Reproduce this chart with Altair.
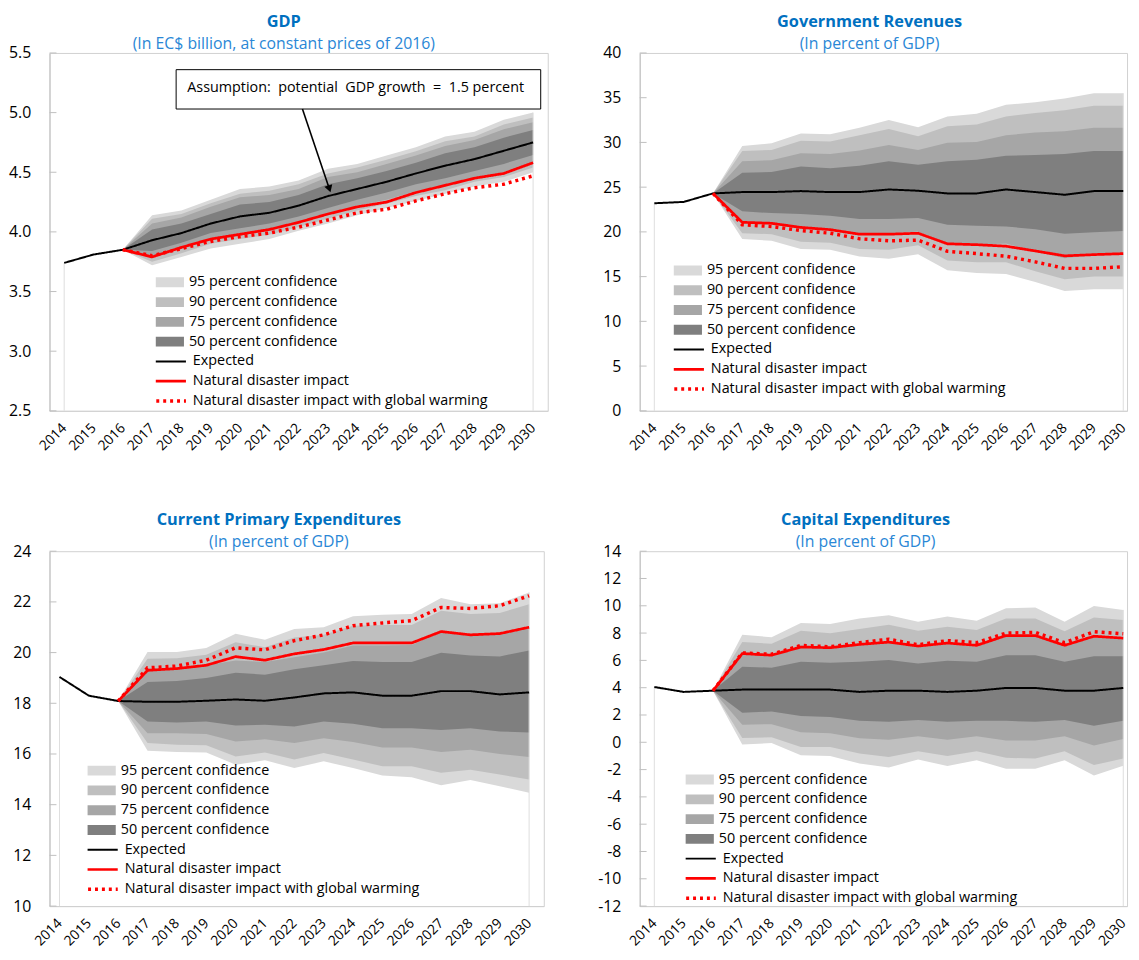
import altair as alt
import pandas as pd

FONT = "Open Sans"
YEARS = list(range(2014, 2031))
FAN_YEARS = YEARS[2:]  # 2016..2030

BAND_NAMES = ["95 percent confidence", "90 percent confidence",
              "75 percent confidence", "50 percent confidence"]
BAND_COLORS = ["#d9d9d9", "#bfbfbf", "#a6a6a6", "#7f7f7f"]
LINE_NAMES = ["Expected", "Natural disaster impact",
              "Natural disaster impact with global warming"]
LINE_COLORS = ["#000000", "#ff0000", "#ff0000"]
LINE_DASH = [[1, 0], [1, 0], [3, 4]]
LINE_WIDTHS = [2, 3.5, 3]

# ---------------- GDP ----------------
gdp_exp = [3.74, 3.81, 3.85, 3.93, 3.99, 4.07, 4.13, 4.16, 4.22, 4.30, 4.36, 4.42, 4.49, 4.555, 4.61, 4.68, 4.75]
gdp_nd = [3.85, 3.79, 3.87, 3.94, 3.98, 4.02, 4.08, 4.15, 4.21, 4.25, 4.33, 4.39, 4.45, 4.49, 4.58]
gdp_ndgw = [3.85, 3.80, 3.86, 3.92, 3.96, 3.99, 4.04, 4.10, 4.16, 4.19, 4.26, 4.32, 4.37, 4.40, 4.47]
gdp_95_hi = [3.85, 4.14, 4.18, 4.27, 4.36, 4.38, 4.43, 4.53, 4.57, 4.64, 4.71, 4.80, 4.84, 4.94, 5.00]
gdp_95_lo = [3.85, 3.72, 3.79, 3.86, 3.90, 3.94, 4.01, 4.07, 4.14, 4.20, 4.26, 4.32, 4.38, 4.42, 4.50]
gdp_90_hi = [3.85, 4.11, 4.15, 4.24, 4.32, 4.345, 4.40, 4.49, 4.54, 4.605, 4.675, 4.76, 4.80, 4.90, 4.96]
gdp_90_lo = [3.85, 3.75, 3.82, 3.90, 3.94, 3.975, 4.04, 4.11, 4.18, 4.235, 4.30, 4.35, 4.42, 4.46, 4.54]
gdp_75_hi = [3.85, 4.07, 4.12, 4.21, 4.29, 4.31, 4.36, 4.46, 4.50, 4.57, 4.64, 4.72, 4.77, 4.86, 4.92]
gdp_75_lo = [3.85, 3.79, 3.86, 3.93, 3.97, 4.01, 4.08, 4.14, 4.22, 4.27, 4.34, 4.39, 4.45, 4.50, 4.58]
gdp_50_hi = [3.85, 4.02, 4.07, 4.15, 4.23, 4.25, 4.31, 4.40, 4.45, 4.51, 4.58, 4.66, 4.71, 4.79, 4.855]
gdp_50_lo = [3.85, 3.84, 3.91, 3.99, 4.03, 4.07, 4.13, 4.20, 4.27, 4.33, 4.40, 4.45, 4.51, 4.57, 4.645]
gdp_ticks = [2.5, 3.0, 3.5, 4.0, 4.5, 5.0, 5.5]

# ---------------- Government revenues ----------------
gov_exp = [23.2, 23.35, 24.3, 24.45, 24.45, 24.56, 24.45, 24.45, 24.74, 24.6, 24.3, 24.3, 24.74, 24.45, 24.15, 24.56, 24.56]
gov_nd = [24.3, 21.07, 20.96, 20.5, 20.25, 19.74, 19.74, 19.85, 18.67, 18.57, 18.4, 17.87, 17.32, 17.46, 17.57]
gov_ndgw = [24.3, 20.8, 20.6, 20.15, 19.85, 19.23, 19.0, 19.08, 17.83, 17.57, 17.28, 16.65, 15.92, 15.92, 16.1]
gov_95_hi = [24.3, 29.6, 29.9, 31.0, 30.9, 31.65, 32.5, 31.7, 32.9, 33.2, 34.2, 34.5, 34.9, 35.5, 35.5]
gov_95_lo = [24.3, 19.2, 19.0, 18.1, 18.0, 17.25, 17.0, 17.5, 15.7, 15.4, 15.3, 14.4, 13.4, 13.6, 13.6]
gov_90_hi = [24.3, 29.05, 29.15, 30.2, 30.1, 30.8, 31.5, 30.7, 31.8, 32.0, 32.9, 33.3, 33.6, 34.1, 34.1]
gov_90_lo = [24.3, 19.85, 19.75, 18.9, 18.8, 18.1, 18.0, 18.5, 16.8, 16.6, 16.6, 15.6, 14.7, 15.0, 15.0]
gov_75_hi = [24.3, 27.9, 28.0, 28.8, 28.7, 29.1, 29.7, 29.15, 29.95, 30.05, 30.8, 31.1, 31.25, 31.65, 31.65]
gov_75_lo = [24.3, 21.0, 20.9, 20.3, 20.2, 19.8, 19.8, 20.05, 18.65, 18.55, 18.7, 17.8, 17.05, 17.45, 17.45]
gov_50_hi = [24.3, 26.6, 26.7, 27.3, 27.1, 27.4, 27.9, 27.5, 27.9, 28.05, 28.5, 28.6, 28.7, 29.05, 29.05]
gov_50_lo = [24.3, 22.3, 22.1, 22.0, 21.8, 21.45, 21.45, 21.55, 20.8, 20.7, 20.6, 20.3, 19.8, 19.95, 20.1]
gov_ticks = [0, 5, 10, 15, 20, 25, 30, 35, 40]

# ---------------- Current primary expenditures ----------------
cpe_exp = [19.04, 18.3, 18.09, 18.06, 18.06, 18.1, 18.15, 18.1, 18.23, 18.39, 18.43, 18.3, 18.3, 18.48, 18.48, 18.35, 18.43]
cpe_nd = [18.09, 19.3, 19.37, 19.5, 19.84, 19.7, 19.95, 20.12, 20.38, 20.38, 20.38, 20.83, 20.7, 20.75, 21.0]
cpe_ndgw = [18.09, 19.4, 19.47, 19.7, 20.19, 20.11, 20.47, 20.7, 21.06, 21.17, 21.26, 21.78, 21.74, 21.85, 22.24]
cpe_95_hi = [18.09, 20.02, 20.02, 20.18, 20.74, 20.51, 20.93, 21.0, 21.43, 21.49, 21.52, 22.15, 21.91, 21.95, 22.37]
cpe_95_lo = [18.09, 16.13, 16.08, 16.06, 15.58, 15.75, 15.45, 15.71, 15.45, 15.15, 15.08, 14.77, 14.97, 14.73, 14.47]
cpe_90_hi = [18.09, 19.76, 19.78, 19.91, 20.41, 20.21, 20.6, 20.7, 21.06, 21.09, 21.09, 21.65, 21.52, 21.56, 21.91]
cpe_90_lo = [18.09, 16.43, 16.36, 16.34, 15.9, 16.06, 15.78, 16.04, 15.78, 15.52, 15.52, 15.26, 15.38, 15.19, 14.99]
cpe_75_hi = [18.09, 19.36, 19.36, 19.5, 19.69, 19.63, 19.82, 20.0, 20.28, 20.28, 20.3, 20.8, 20.67, 20.7, 20.96]
cpe_75_lo = [18.09, 16.82, 16.82, 16.79, 16.49, 16.58, 16.43, 16.62, 16.47, 16.26, 16.26, 16.08, 16.17, 16.0, 15.88]
cpe_50_hi = [18.09, 18.84, 18.88, 19.0, 19.2, 19.13, 19.34, 19.5, 19.67, 19.63, 19.63, 19.99, 19.89, 19.85, 20.08]
cpe_50_lo = [18.09, 17.28, 17.24, 17.28, 17.12, 17.15, 17.08, 17.28, 17.19, 17.02, 17.02, 16.95, 17.02, 16.89, 16.85]
cpe_ticks = [10, 12, 14, 16, 18, 20, 22, 24]

# ---------------- Capital expenditures ----------------
cap_exp = [4.05, 3.69, 3.78, 3.86, 3.86, 3.86, 3.86, 3.69, 3.78, 3.78, 3.69, 3.78, 3.98, 3.98, 3.78, 3.78, 3.98]
cap_nd = [3.78, 6.5, 6.38, 6.98, 6.93, 7.17, 7.34, 7.05, 7.27, 7.1, 7.82, 7.82, 7.1, 7.77, 7.63]
cap_ndgw = [3.78, 6.55, 6.45, 7.1, 7.0, 7.3, 7.55, 7.15, 7.45, 7.3, 8.0, 8.05, 7.3, 8.1, 7.95]
cap_95_hi = [3.78, 7.87, 7.7, 8.74, 8.66, 9.07, 9.31, 8.83, 9.22, 8.9, 9.82, 9.87, 8.83, 9.99, 9.7]
cap_95_lo = [3.78, -0.16, -0.06, -0.95, -1.0, -1.55, -1.84, -1.26, -1.74, -1.31, -1.94, -1.94, -1.31, -2.44, -1.72]
cap_90_hi = [3.78, 7.34, 7.22, 8.18, 7.99, 8.3, 8.62, 8.18, 8.47, 8.23, 9.07, 9.07, 8.13, 9.14, 8.95]
cap_90_lo = [3.78, 0.32, 0.37, -0.35, -0.35, -0.83, -1.07, -0.66, -1.0, -0.66, -1.14, -1.19, -0.66, -1.67, -1.19]
cap_75_hi = [3.78, 6.62, 6.43, 7.1, 6.9, 7.22, 7.34, 6.98, 7.22, 6.98, 7.87, 7.87, 6.98, 7.82, 7.63]
cap_75_lo = [3.78, 1.28, 1.33, 0.73, 0.66, 0.3, 0.18, 0.44, 0.18, 0.44, 0.13, 0.13, 0.44, -0.23, 0.25]
cap_50_hi = [3.78, 5.54, 5.47, 5.9, 5.83, 5.9, 6.02, 5.78, 5.97, 5.9, 6.38, 6.38, 5.9, 6.31, 6.31]
cap_50_lo = [3.78, 2.17, 2.25, 1.93, 1.86, 1.57, 1.5, 1.64, 1.5, 1.57, 1.57, 1.5, 1.64, 1.21, 1.57]
cap_ticks = [-12, -10, -8, -6, -4, -2, 0, 2, 4, 6, 8, 10, 12, 14]

# GDP annotation (in data units)
annot_text = "Assumption:  potential  GDP growth  =  1.5 percent".replace("  ", " \u00a0")
annot_box = {"x": 2017.82, "x2": 2030.26, "y": 5.36, "y2": 5.03}
annot_text_pos = {"x": 2018.2, "y": 5.205}
annot_arrow = {"x": 2022.13, "y": 5.03, "x2": 2023.05, "y2": 4.36}

RECT_PATH = "M-1.85,-0.5L1.85,-0.5L1.85,0.5L-1.85,0.5Z"
LINE_PATH = "M-1.85,0L1.85,0"
TITLE_BLUE = "#0070c0"
SUB_BLUE = "#2a87d6"


def make_panel(title, subtitle, exp, nd, ndgw, bands, ticks, xdom, width, height,
               legend_xy, dx, label_expr=None, annotate=False):
    band_rows = []
    for name, (lo, hi) in zip(BAND_NAMES, bands):
        for yr, l, h in zip(FAN_YEARS, lo, hi):
            band_rows.append({"year": yr, "band": name, "lo": l, "hi": h})
    band_df = pd.DataFrame(band_rows)

    line_rows = []
    for yr, v in zip(YEARS, exp):
        line_rows.append({"year": yr, "series": LINE_NAMES[0], "value": v})
    for yr, v in zip(FAN_YEARS, nd):
        line_rows.append({"year": yr, "series": LINE_NAMES[1], "value": v})
    for yr, v in zip(FAN_YEARS, ndgw):
        line_rows.append({"year": yr, "series": LINE_NAMES[2], "value": v})
    line_df = pd.DataFrame(line_rows)

    xscale = alt.Scale(domain=xdom, nice=False, zero=False)
    yscale = alt.Scale(domain=[ticks[0], ticks[-1]], nice=False, zero=False)
    xaxis = alt.Axis(values=YEARS, tickCount=len(YEARS), format="d", title=None,
                     labelOverlap=False, labelFlush=False, labelAngle=315,
                     labelAlign="right", labelBaseline="middle")
    ykw = dict(values=ticks, tickCount=len(ticks), title=None, labelOverlap=False,
               labelFlush=False)
    if label_expr:
        ykw["labelExpr"] = label_expr
    else:
        ykw["format"] = ".1f" if isinstance(ticks[0], float) else "d"
    yaxis = alt.Axis(**ykw)

    def X(field):
        return alt.X(field, scale=xscale, axis=xaxis)

    def Y(field):
        return alt.Y(field, scale=yscale, axis=yaxis)

    lx, ly = legend_xy
    fill_legend = alt.Legend(title=None, orient="none", legendX=lx, legendY=ly,
                             symbolType=RECT_PATH, symbolSize=400, symbolStrokeWidth=0,
                             labelOffset=13.5, clipHeight=20, rowPadding=0)
    line_legend = alt.Legend(title=None, orient="none", legendX=lx, legendY=ly + 80,
                             symbolType=LINE_PATH, symbolSize=400,
                             labelOffset=13.5, clipHeight=20, rowPadding=0)

    layers = []
    for name in BAND_NAMES:
        layers.append(
            alt.Chart(band_df).transform_filter(alt.datum.band == name)
            .mark_area()
            .encode(
                x=X("year:Q"), y=Y("lo:Q"), y2="hi:Q",
                fill=alt.Fill("band:N", scale=alt.Scale(domain=BAND_NAMES, range=BAND_COLORS),
                              legend=fill_legend),
            )
        )

    # light drop lines at the ends of the series
    drop_df = pd.DataFrame({"year": [YEARS[0], YEARS[-1]],
                            "top": [exp[0], bands[0][1][-1]],
                            "bot": [ticks[0], ticks[0]]})
    layers.append(
        alt.Chart(drop_df).mark_rule(color="#dedede", strokeWidth=1)
        .encode(x=X("year:Q"), y=Y("top:Q"), y2="bot:Q")
    )

    # inward tick marks on the value axis
    tick_df = pd.DataFrame({"v": ticks})
    layers.append(
        alt.Chart(tick_df).mark_rule(color="#bfbfbf", strokeWidth=1)
        .encode(y=Y("v:Q"), x=alt.value(0), x2=alt.value(7))
    )

    for name in LINE_NAMES:
        layers.append(
            alt.Chart(line_df).transform_filter(alt.datum.series == name)
            .mark_line()
            .encode(
                x=X("year:Q"), y=Y("value:Q"),
                stroke=alt.Stroke("series:N", scale=alt.Scale(domain=LINE_NAMES, range=LINE_COLORS),
                                  legend=line_legend),
                strokeDash=alt.StrokeDash("series:N", scale=alt.Scale(domain=LINE_NAMES, range=LINE_DASH),
                                          legend=line_legend),
                strokeWidth=alt.StrokeWidth("series:N", scale=alt.Scale(domain=LINE_NAMES, range=LINE_WIDTHS),
                                            legend=line_legend),
            )
        )

    if annotate:
        box_df = pd.DataFrame([annot_box])
        layers.append(
            alt.Chart(box_df).mark_rect(fill="white", stroke="black", strokeWidth=1)
            .encode(x=X("x:Q"), x2="x2:Q", y=Y("y:Q"), y2="y2:Q")
        )
        txt_df = pd.DataFrame([{**annot_text_pos, "t": annot_text}])
        layers.append(
            alt.Chart(txt_df).mark_text(align="left", baseline="middle", font=FONT,
                                        fontSize=14.5, color="black")
            .encode(x=X("x:Q"), y=Y("y:Q"), text="t:N")
        )
        arr_df = pd.DataFrame([annot_arrow])
        layers.append(
            alt.Chart(arr_df).mark_rule(color="black", strokeWidth=1.6)
            .encode(x=X("x:Q"), x2="x2:Q", y=Y("y:Q"), y2="y2:Q")
        )
        layers.append(
            alt.Chart(arr_df).mark_point(shape="triangle-down", filled=True, size=70,
                                         angle=342, color="black", opacity=1)
            .encode(x=X("x2:Q"), y=Y("y2:Q"))
        )

    return alt.layer(*layers).properties(
        width=width, height=height,
        title=alt.TitleParams(
            text=title, subtitle=subtitle, font=FONT, fontSize=16.5, fontWeight="bold",
            color=TITLE_BLUE, subtitleFont=FONT, subtitleFontSize=16,
            subtitleColor=SUB_BLUE, subtitlePadding=6, offset=-7, anchor="middle", dx=dx),
    )


p_gdp = make_panel("GDP", "(In EC$ billion, at constant prices of 2016)",
                   gdp_exp, gdp_nd, gdp_ndgw,
                   [(gdp_95_lo, gdp_95_hi), (gdp_90_lo, gdp_90_hi), (gdp_75_lo, gdp_75_hi), (gdp_50_lo, gdp_50_hi)],
                   gdp_ticks, [2013.5, 2030.5], 504, 362, (107.5, 222), -15, annotate=True)
p_gov = make_panel("Government Revenues", "(In percent of GDP)",
                   gov_exp, gov_nd, gov_ndgw,
                   [(gov_95_lo, gov_95_hi), (gov_90_lo, gov_90_hi), (gov_75_lo, gov_75_hi), (gov_50_lo, gov_50_hi)],
                   gov_ticks, [2013.5, 2030.13], 493, 362, (34.5, 210), -14)
p_cpe = make_panel("Current Primary Expenditures", "(In percent of GDP)",
                   cpe_exp, cpe_nd, cpe_ndgw,
                   [(cpe_95_lo, cpe_95_hi), (cpe_90_lo, cpe_90_hi), (cpe_75_lo, cpe_75_hi), (cpe_50_lo, cpe_50_hi)],
                   cpe_ticks, [2013.66, 2030.5], 500, 359, (38.5, 212), -18)
p_cap = make_panel("Capital Expenditures", "(In percent of GDP)",
                   cap_exp, cap_nd, cap_ndgw,
                   [(cap_95_lo, cap_95_hi), (cap_90_lo, cap_90_hi), (cap_75_lo, cap_75_hi), (cap_50_lo, cap_50_hi)],
                   cap_ticks, [2013.5, 2030.13], 493, 359, (46.5, 221), -18,
                   label_expr="'' + datum.value")

RES = dict(x="independent", y="independent", fill="independent", stroke="independent",
           strokeDash="independent", strokeWidth="independent")

chart = (
    alt.concat(p_gdp, p_gov, p_cpe, p_cap, columns=2,
               spacing={"row": 142, "column": 93}, bounds="flush")
    .resolve_scale(**RES)
    .properties(padding={"left": 0, "top": 0, "right": 0, "bottom": 0})
    .configure(font=FONT)
    .configure_view(stroke="#d0d0d0", strokeWidth=1)
    .configure_axisY(labelFont=FONT, labelFontSize=16, labelColor="black", domainColor="#bfbfbf",
                     ticks=False, labelPadding=19, grid=False, labelOverlap=False)
    .configure_axisX(labelFont=FONT, labelFontSize=14, labelColor="black", domainColor="#d0d0d0",
                     ticks=False, labelPadding=15, grid=False, labelOverlap=False)
    .configure_legend(labelFont=FONT, labelFontSize=14.5, labelColor="black", labelLimit=400,
                      padding=0, offset=0)
)

chart.save("out.html", embed_options={"renderer": "svg", "actions": False})
